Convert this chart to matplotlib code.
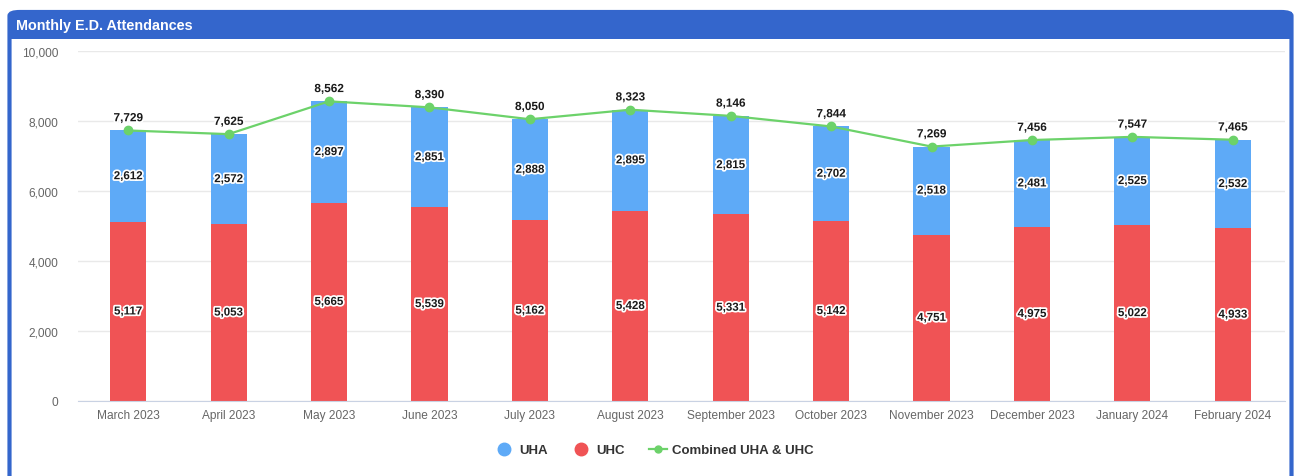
import numpy as np
import matplotlib.pyplot as plt
import matplotlib.patheffects as pe
from matplotlib.patches import FancyBboxPatch, Rectangle
from matplotlib.lines import Line2D

plt.rcParams['font.family'] = ['Liberation Sans', 'DejaVu Sans']

months = ['March 2023', 'April 2023', 'May 2023', 'June 2023', 'July 2023',
          'August 2023', 'September 2023', 'October 2023', 'November 2023',
          'December 2023', 'January 2024', 'February 2024']
uhc = [5117, 5053, 5665, 5539, 5162, 5428, 5331, 5142, 4751, 4975, 5022, 4933]
uha = [2612, 2572, 2897, 2851, 2888, 2895, 2815, 2702, 2518, 2481, 2525, 2532]
combined = [7729, 7625, 8562, 8390, 8050, 8323, 8146, 7844, 7269, 7456, 7547, 7465]

BLUE = '#5eaaf7'
RED = '#f05355'
GREEN = '#6cd26a'
FRAME = '#3466cc'

W, H = 1296, 477
fig = plt.figure(figsize=(W / 100, H / 100), dpi=100)

# card frame with a blue title bar
frame = FancyBboxPatch((9.5 / W, -30 / H), 1282 / W, 494 / H,
                       boxstyle='round,pad=0,rounding_size=0.008',
                       transform=fig.transFigure, facecolor='none',
                       edgecolor=FRAME, linewidth=3, zorder=0)
fig.patches.append(frame)
header = Rectangle((9.5 / W, 1 - 40 / H), 1282 / W, 27 / H,
                   transform=fig.transFigure, facecolor=FRAME,
                   edgecolor='none', zorder=1)
fig.patches.append(header)
fig.text(16 / W, 1 - 26 / H, 'Monthly E.D. Attendances', color='white',
         fontsize=10.4, fontweight='bold', va='center', ha='left')

ax = fig.add_axes([78 / W, 1 - 402 / H, 1207 / W, 350 / H])
ax.set_zorder(2)
x = np.arange(len(months))
width = 0.36

ax.bar(x, uhc, width, color=RED, zorder=2)
ax.bar(x, uha, width, bottom=uhc, color=BLUE, zorder=2)
ax.plot(x, combined, color=GREEN, linewidth=1.6, marker='o', markersize=6, zorder=3)

halo = [pe.withStroke(linewidth=2.5, foreground='white')]
for i in range(len(months)):
    ax.text(x[i], uhc[i] / 2, f'{uhc[i]:,}', ha='center', va='center',
            fontsize=8.3, fontweight='bold', color='#1a1a1a', path_effects=halo, zorder=4)
    ax.text(x[i], uhc[i] + uha[i] / 2, f'{uha[i]:,}', ha='center', va='center',
            fontsize=8.3, fontweight='bold', color='#1a1a1a', path_effects=halo, zorder=4)
    ax.annotate(f'{combined[i]:,}', (x[i], combined[i]), xytext=(0, 4.5),
                textcoords='offset points', ha='center', va='bottom',
                fontsize=8.5, fontweight='bold', color='#1a1a1a', path_effects=halo, zorder=4)

ax.set_xlim(-0.5, 11.52)
ax.set_ylim(0, 10000)
ax.set_yticks(np.arange(0, 10001, 2000))
ax.yaxis.set_major_formatter(lambda v, p: f'{int(v):,}')
ax.set_xticks(x)
ax.set_xticklabels(months)
ax.tick_params(axis='both', length=0, labelsize=8.6, labelcolor='#666666')
ax.tick_params(axis='x', pad=6)
ax.tick_params(axis='y', pad=14)
ax.grid(axis='y', color='#e9e9e9', linewidth=1, zorder=0)
ax.set_axisbelow(True)
for s in ['top', 'right', 'left']:
    ax.spines[s].set_visible(False)
ax.spines['bottom'].set_color('#c9d2e3')
ax.set_facecolor('none')

handles = [
    Line2D([], [], linestyle='none', marker='o', markersize=9, color=BLUE),
    Line2D([], [], linestyle='none', marker='o', markersize=9, color=RED),
    Line2D([], [], color=GREEN, linewidth=1.6, marker='o', markersize=5),
]
leg = fig.legend(handles, ['UHA', 'UHC', 'Combined UHA & UHC'], loc='center',
                 bbox_to_anchor=(655 / W, 1 - 451 / H), ncol=3, frameon=False,
                 fontsize=9.5, handlelength=1.3, handletextpad=0.45, columnspacing=1.9)
for t in leg.get_texts():
    t.set_fontweight('bold')
    t.set_color('#333333')

fig.savefig('out.png', dpi=100)
